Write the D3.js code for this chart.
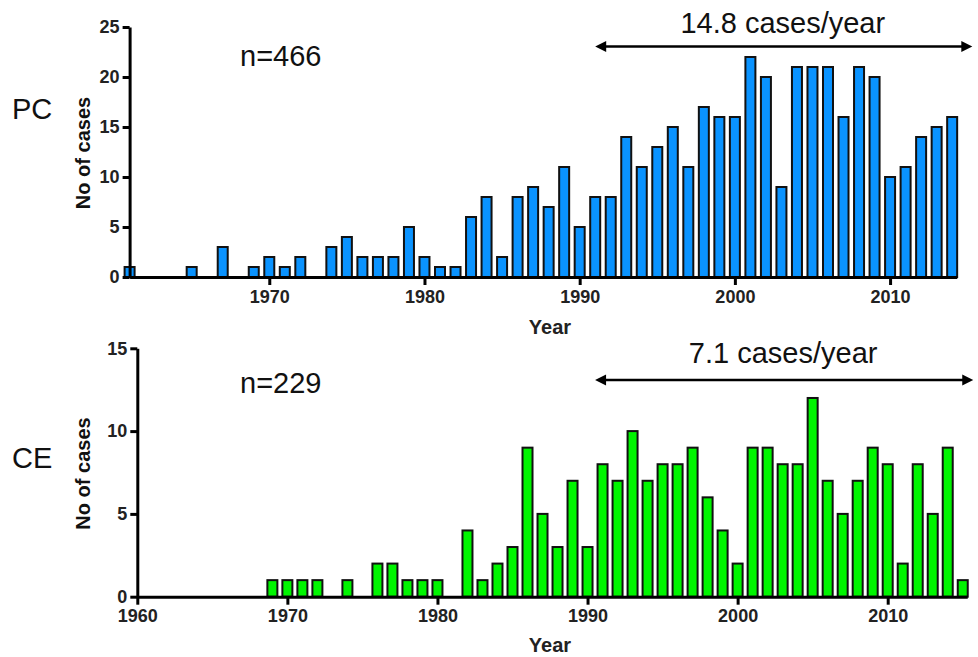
<!DOCTYPE html>
<html>
<head>
<meta charset="utf-8">
<script src="https://cdn.jsdelivr.net/npm/d3@7"></script>
<style>
  html, body { margin: 0; padding: 0; background: #fff; }
  svg { display: block; font-family: "Liberation Sans", Arial, sans-serif; }
  .tick text { font-size: 18px !important; font-weight: bold; font-family: "Liberation Sans", Arial, sans-serif; }
</style>
</head>
<body>
<svg id="chart" width="978" height="657"></svg>
<script>
// ---- data ----
const pcYears  = [1961,1962,1963,1964,1965,1966,1967,1968,1969,1970,1971,1972,1973,1974,1975,1976,1977,1978,1979,1980,1981,1982,1983,1984,1985,1986,1987,1988,1989,1990,1991,1992,1993,1994,1995,1996,1997,1998,1999,2000,2001,2002,2003,2004,2005,2006,2007,2008,2009,2010,2011,2012,2013,2014];
const pcValues = [1,0,0,0,1,0,3,0,1,2,1,2,0,3,4,2,2,2,5,2,1,1,6,8,2,8,9,7,11,5,8,8,14,11,13,15,11,17,16,16,22,20,9,21,21,21,16,21,20,10,11,14,15,16];

const ceYears  = [1969,1970,1971,1972,1974,1976,1977,1978,1979,1980,1982,1983,1984,1985,1986,1987,1988,1989,1990,1991,1992,1993,1994,1995,1996,1997,1998,1999,2000,2001,2002,2003,2004,2005,2006,2007,2008,2009,2010,2011,2012,2013,2014,2015];
const ceValues = [1,1,1,1,1,2,2,1,1,1,4,1,2,3,9,5,3,7,3,8,7,10,7,8,8,9,6,4,2,9,9,8,8,12,7,5,7,9,8,2,8,5,9,1];

const pcYTicks = [0,5,10,15,20,25];
const ceYTicks = [0,5,10,15];
const pcXTicks = [1970,1980,1990,2000,2010];
const ceXTicks = [1960,1970,1980,1990,2000,2010];

const panelLabels = ["PC", "CE"];
const countLabels = ["n=466", "n=229"];
const rateLabels  = ["14.8 cases/year", "7.1 cases/year"];
const rateSpans   = [[1991, 2015.3], [1990.5, 2015.7]];

const svg = d3.select("#chart");

function panel(cfg) {
  const x = d3.scaleLinear().domain(cfg.xDomain).range(cfg.xRange);
  const y = d3.scaleLinear().domain(cfg.yDomain).range(cfg.yRange);
  const g = svg.append("g");
  const bw = 10;

  // bars
  g.selectAll("rect.bar").data(cfg.years.map((yr, i) => ({yr, v: cfg.values[i]})).filter(d => d.v > 0))
    .join("rect")
    .attr("class", "bar")
    .attr("x", d => x(d.yr) - bw / 2)
    .attr("width", bw)
    .attr("y", d => y(d.v))
    .attr("height", d => y(0) - y(d.v))
    .attr("fill", cfg.color)
    .attr("stroke", "#111")
    .attr("stroke-width", 2);

  // x axis
  const xa = g.append("g")
    .attr("transform", `translate(0,${y(0)})`)
    .call(d3.axisBottom(x).tickValues(cfg.xTicks).tickFormat(d3.format("d"))
      .tickSize(8).tickSizeOuter(0).tickPadding(5));
  // y axis
  const ya = g.append("g")
    .attr("transform", `translate(${x(cfg.xDomain[0])},0)`)
    .call(d3.axisLeft(y).tickValues(cfg.yTicks).tickSize(7).tickSizeOuter(0).tickPadding(3));

  [xa, ya].forEach(a => {
    a.attr("font-size", 18).attr("font-family", null);
    a.select(".domain").attr("stroke", "#000").attr("stroke-width", 3);
    a.selectAll(".tick line").attr("stroke", "#000").attr("stroke-width", 3);
    a.selectAll(".tick text").attr("fill", "#222");
  });

  // axis titles
  g.append("text")
    .attr("x", cfg.xTitlePos[0]).attr("y", cfg.xTitlePos[1])
    .attr("text-anchor", "middle").attr("font-size", 20).attr("font-weight", "bold")
    .attr("fill", "#222").text("Year");
  g.append("text")
    .attr("transform", `translate(${cfg.yTitleX},${(y.range()[0] + y.range()[1]) / 2 + 1}) rotate(-90)`)
    .attr("text-anchor", "middle").attr("font-size", 20).attr("font-weight", "bold")
    .attr("fill", "#111").text("No of cases");

  // panel label
  g.append("text").attr("x", 12).attr("y", cfg.labelY)
    .attr("font-size", 29).attr("fill", "#111").text(cfg.label);
  // n label
  g.append("text").attr("x", 240).attr("y", cfg.nY)
    .attr("font-size", 29).attr("fill", "#111").text(cfg.nText);

  // rate arrow
  const ax0 = x(cfg.span[0]), ax1 = x(cfg.span[1]);
  const ay = cfg.arrowY;
  g.append("line").attr("x1", ax0 + 4).attr("x2", ax1 - 4).attr("y1", ay).attr("y2", ay)
    .attr("stroke", "#000").attr("stroke-width", 2.5);
  g.append("path").attr("d", `M${ax0},${ay} L${ax0 + 11},${ay - 5.5} L${ax0 + 11},${ay + 5.5} Z`).attr("fill", "#000");
  g.append("path").attr("d", `M${ax1},${ay} L${ax1 - 11},${ay - 5.5} L${ax1 - 11},${ay + 5.5} Z`).attr("fill", "#000");
  g.append("text").attr("x", (ax0 + ax1) / 2 - 1).attr("y", cfg.rateY)
    .attr("text-anchor", "middle").attr("font-size", 29).attr("fill", "#111").text(cfg.rate);
}

panel({
  years: pcYears, values: pcValues, color: "#0a93ff",
  xDomain: [1961, 2014.3], xRange: [129.6, 129.6 + 53.3 * 15.52],
  yDomain: [0, 25], yRange: [277, 27],
  xTicks: pcXTicks, yTicks: pcYTicks,
  xTitlePos: [550, 334], yTitleX: 90,
  label: panelLabels[0], labelY: 119, nText: countLabels[0], nY: 66,
  span: rateSpans[0], arrowY: 46.5, rate: rateLabels[0], rateY: 33
});

panel({
  years: ceYears, values: ceValues, color: "#00f500",
  xDomain: [1960, 2015.3], xRange: [137.3, 137.3 + 55.3 * 15.008],
  yDomain: [0, 15], yRange: [596.7, 348.3],
  xTicks: ceXTicks, yTicks: ceYTicks,
  xTitlePos: [550, 652], yTitleX: 90,
  label: panelLabels[1], labelY: 468, nText: countLabels[1], nY: 393,
  span: rateSpans[1], arrowY: 380, rate: rateLabels[1], rateY: 363
});
</script>
</body>
</html>
